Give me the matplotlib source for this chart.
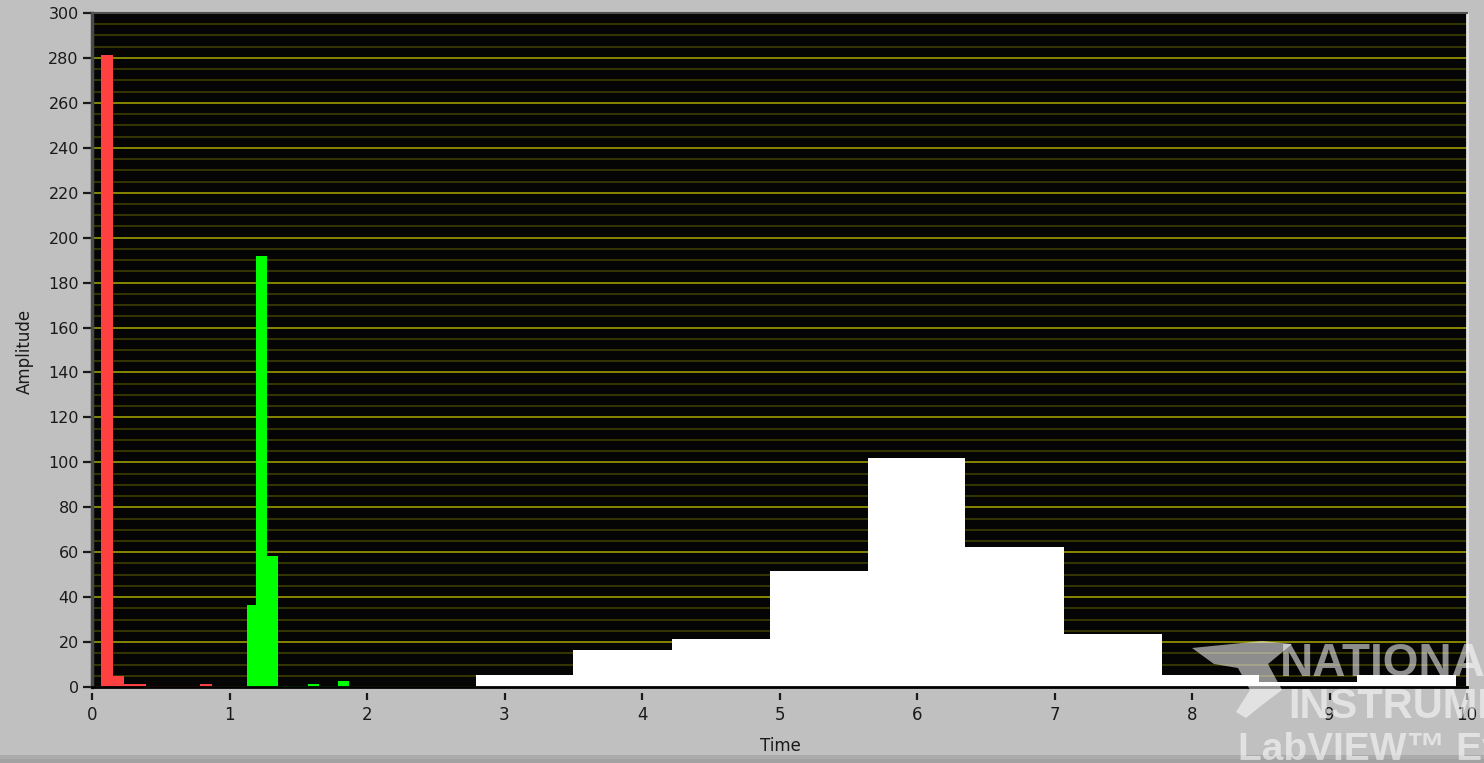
import matplotlib
matplotlib.use("Agg")
import matplotlib.pyplot as plt
import numpy as np
from matplotlib.ticker import MultipleLocator
from matplotlib.patches import Polygon, Rectangle

# Bin edges (Time) and amplitudes for the three histogram series
red_edges = [0.066, 0.152, 0.233, 0.393, 0.787, 0.874]
red_heights = [281.5, 5.0, 1.2, 0.5, 1.2]

green_edges = [1.129, 1.195, 1.275, 1.355, 1.573, 1.653, 1.79, 1.87]
green_heights = [36.5, 191.8, 58.3, 0.5, 1.3, 0.5, 2.7]

white_edges = [2.79, 3.50, 4.22, 4.93, 5.64, 6.35, 7.07, 7.78, 8.49, 9.20, 9.92]
white_heights = [5.3, 16.5, 21.4, 51.6, 101.9, 62.3, 23.6, 5.3, 2.2, 5.3]

W, H = 1484, 763
fig = plt.figure(figsize=(W / 100, H / 100), dpi=100, facecolor="#c0c0c0")
ax = fig.add_axes([92 / W, 76 / H, 1375 / W, 674 / H])
ax.set_facecolor("#050505")
ax.set_axisbelow(True)

series = [
    (red_edges, red_heights, "#ff4040"),
    (green_edges, green_heights, "#00ff00"),
    (white_edges, white_heights, "#ffffff"),
]
for edges, heights, color in series:
    edges = np.asarray(edges)
    ax.bar(edges[:-1], heights, width=np.diff(edges), align="edge",
           color=color, linewidth=0, zorder=2)

ax.set_xlim(0, 10)
ax.set_ylim(0, 300)
ax.xaxis.set_major_locator(MultipleLocator(1))
ax.yaxis.set_major_locator(MultipleLocator(20))
ax.yaxis.set_minor_locator(MultipleLocator(5))

ax.grid(which="major", axis="y", color="#9c9c00", linewidth=1.2)
ax.grid(which="minor", axis="y", color="#3e3e00", linewidth=1.2)

txt = "#1a1a1a"
ax.tick_params(axis="y", which="major", length=6.5, width=1.6, direction="out",
               pad=3, labelsize=11.5, colors=txt)
ax.tick_params(axis="y", which="minor", length=0)
ax.tick_params(axis="x", which="major", length=5, width=1.6, direction="out",
               pad=5, labelsize=12, colors=txt)

# Bevelled frame around the plot area
ax.spines["left"].set_color("#4a4a4a")
ax.spines["left"].set_linewidth(2.5)
ax.spines["top"].set_color("#505050")
ax.spines["top"].set_linewidth(1.5)
ax.spines["right"].set_color("#e6e6e6")
ax.spines["right"].set_linewidth(2)
ax.spines["bottom"].set_position(("outward", 4))
ax.spines["bottom"].set_color("none")
ax.axhline(0, color="black", linewidth=2, zorder=3, clip_on=False)

fig.text(25 / W, 1 - 351 / H, "Amplitude", rotation=90, ha="center",
         va="center", fontsize=12, color=txt)
fig.text(780 / W, 1 - 751 / H, "Time", ha="center", va="baseline",
         fontsize=12, color=txt)

# Lower window edge
fig.add_artist(Rectangle((0, 0), 1, 8 / H, transform=fig.transFigure,
                         facecolor="#ababab", edgecolor="none"))
fig.add_artist(Rectangle((0, 0), 1, 4 / H, transform=fig.transFigure,
                         facecolor="#a2a2a2", edgecolor="none"))

# Evaluation watermark
wm = dict(color="white", alpha=0.55, fontweight="bold",
          family="Liberation Sans", zorder=10)
logo_px = [(1192, 648), (1262, 641), (1292, 644), (1268, 664), (1282, 690),
           (1262, 705), (1246, 718), (1236, 712), (1250, 690), (1238, 668),
           (1214, 664)]
fig.add_artist(Polygon([(x / W, 1 - y / H) for x, y in logo_px], closed=True,
                       transform=fig.transFigure, facecolor="white",
                       alpha=0.55, edgecolor="none", zorder=10))
fig.text(1280 / W, 1 - 676 / H, "NATIONAL", fontsize=33, va="baseline", **wm)
fig.text(1288 / W, 1 - 718 / H, "INSTRUMENTS", fontsize=30, va="baseline", **wm)
fig.text(1238 / W, 1 - 760 / H, "LabVIEW\u2122 Evaluation", fontsize=28,
         va="baseline", **wm)

fig.savefig("out.png", dpi=100, facecolor=fig.get_facecolor())
